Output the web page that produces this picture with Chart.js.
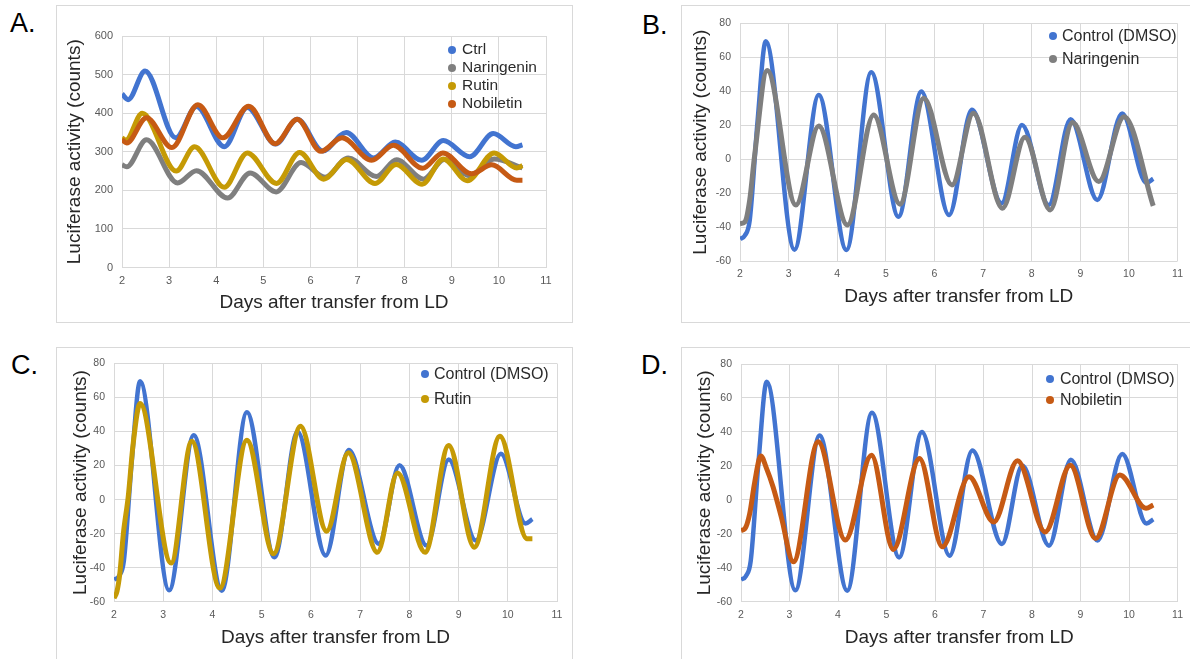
<!DOCTYPE html>
<html lang="en">
<head>
<meta charset="UTF-8">
<title>Luciferase activity after transfer from LD</title>
<script src="https://cdn.jsdelivr.net/npm/chart.js"></script>
<style>
  body { margin: 0; width: 1190px; height: 659px; background: #fff; position: relative; overflow: hidden;
         font-family: 'Liberation Sans', Arial, sans-serif; }
  .frame { position: absolute; border: 1px solid #d9d9d9; box-sizing: border-box; }
  .holder { position: absolute; }
  .tag { position: absolute; font-size: 27px; line-height: 27px; color: #000; }
  .legend { position: absolute; color: #2b2b2b; white-space: nowrap; }
  .legend div { position: relative; }
  .legend span { position: absolute; border-radius: 50%; }
</style>
</head>
<body>
  <div class="frame" style="left:56px;top:5px;width:517px;height:318px"></div>
  <div class="frame" style="left:681px;top:5px;width:520px;height:318px"></div>
  <div class="frame" style="left:56px;top:347px;width:517px;height:320px"></div>
  <div class="frame" style="left:681px;top:347px;width:520px;height:320px"></div>

  <div class="holder" style="left:56px;top:5px"><canvas id="chartA" width="517" height="316"></canvas></div>
  <div class="holder" style="left:681px;top:5px"><canvas id="chartB" width="509" height="316"></canvas></div>
  <div class="holder" style="left:56px;top:347px"><canvas id="chartC" width="517" height="312"></canvas></div>
  <div class="holder" style="left:681px;top:347px"><canvas id="chartD" width="509" height="312"></canvas></div>

  <div class="tag" style="left:10px;top:10px">A.</div>
  <div class="tag" style="left:642px;top:12px">B.</div>
  <div class="tag" style="left:11px;top:352px">C.</div>
  <div class="tag" style="left:641px;top:352px">D.</div>

<script>
  // axis ticks
  const dayTicks = [2, 3, 4, 5, 6, 7, 8, 9, 10, 11];
  const countTicksA = [0, 100, 200, 300, 400, 500, 600];
  const countTicks = [-60, -40, -20, 0, 20, 40, 60, 80];

  // panel A (raw counts)
  const daysCtrlA = [2.0, 2.13, 2.49, 3.14, 3.58, 4.17, 4.66, 5.26, 5.72, 6.26, 6.76, 7.34, 7.80, 8.36, 8.82, 9.38, 9.88, 10.36, 10.5];
  const ctrlA =     [450, 435, 509, 336, 417, 313, 415, 320, 384, 302, 350, 284, 325, 278, 329, 287, 347, 313, 318];
  const daysNarA = [2.0, 2.1, 2.52, 3.18, 3.58, 4.24, 4.72, 5.27, 5.80, 6.31, 6.80, 7.40, 7.83, 8.40, 8.84, 9.38, 9.90, 10.5];
  const narA =     [266, 261, 331, 219, 251, 180, 245, 196, 272, 234, 284, 236, 279, 229, 280, 238, 281, 258];
  const daysRutA = [2.0, 2.08, 2.43, 3.15, 3.54, 4.17, 4.66, 5.28, 5.77, 6.28, 6.77, 7.37, 7.82, 8.37, 8.82, 9.33, 9.90, 10.38, 10.5];
  const rutA =     [336, 330, 400, 250, 313, 208, 297, 218, 298, 229, 280, 218, 267, 216, 281, 225, 297, 258, 264];
  const daysNobA = [2.0, 2.1, 2.52, 3.06, 3.61, 4.14, 4.69, 5.25, 5.72, 6.22, 6.67, 7.30, 7.76, 8.38, 8.81, 9.42, 9.85, 10.38, 10.5];
  const nobA =     [331, 323, 388, 311, 422, 336, 418, 321, 384, 301, 336, 278, 317, 257, 297, 243, 266, 226, 226];

  // panels B-D (detrended counts)
  const daysDmso = [2.0, 2.1, 2.2, 2.36, 2.53, 3.12, 3.62, 4.19, 4.70, 5.26, 5.73, 6.30, 6.77, 7.38, 7.80, 8.35, 8.80, 9.35, 9.86, 10.36, 10.5];
  const dmso =     [-47, -45, -36, 22, 69.5, -53.3, 37.9, -53.5, 51.3, -33.9, 39.9, -32.9, 29.1, -26, 20.2, -27, 23.6, -24, 27, -14, -11.5];
  const daysNar = [2.0, 2.1, 2.2, 2.3, 2.56, 3.15, 3.62, 4.21, 4.75, 5.29, 5.78, 6.36, 6.80, 7.40, 7.86, 8.38, 8.84, 9.38, 9.90, 10.5];
  const nar =     [-38, -37, -24, 2, 52.3, -27, 19.6, -38.8, 26.1, -26.5, 36, -15.2, 27.1, -28.9, 13, -29.9, 21.6, -13.2, 25, -27.5];
  const daysRut = [2.0, 2.06, 2.12, 2.19, 2.29, 2.39, 2.53, 3.16, 3.58, 4.15, 4.70, 5.24, 5.79, 6.32, 6.76, 7.35, 7.76, 8.32, 8.80, 9.32, 9.84, 10.39, 10.5];
  const rut =     [-58, -54, -43, -20, 2, 33, 56.5, -37.3, 34.3, -52, 34.9, -31.8, 43.1, -18.6, 27.5, -31, 15.7, -31, 31.8, -28, 37.2, -23, -23];
  const daysNob = [2.0, 2.08, 2.18, 2.28, 2.41, 2.52, 2.66, 2.83, 3.08, 3.59, 4.15, 4.69, 5.14, 5.68, 6.15, 6.70, 7.21, 7.70, 8.27, 8.79, 9.31, 9.81, 10.35, 10.5];
  const nob =     [-18, -17, -8, 10, 25.8, 19, 7.7, -10, -36.5, 34.2, -23.7, 26.3, -29.2, 24.4, -27.7, 13.6, -13, 23, -18.9, 20.4, -22.8, 14.6, -5, -3];

  const BLUE = '#4274d0', GRAY = '#7f7f7f', GOLD = '#c59a05', ORANGE = '#c65a14';
  const FONT = "'Liberation Sans', Arial, sans-serif";

  function series(label, days, vals, color, order, width) {
    return {
      label: label,
      data: days.map((d, i) => ({ x: d, y: vals[i] })),
      borderColor: color,
      backgroundColor: color,
      borderWidth: width,
      pointRadius: 0,
      fill: false,
      cubicInterpolationMode: 'monotone',
      order: order
    };
  }

  function panel(id, datasets, yTicks, g) {
    return new Chart(document.getElementById(id), {
      type: 'line',
      data: { datasets: datasets },
      options: {
        responsive: false,
        animation: false,
        devicePixelRatio: 1,
        layout: { padding: { top: g.top, right: g.right, left: 0, bottom: 0 } },
        plugins: { legend: { display: false }, tooltip: { enabled: false } },
        scales: {
          x: {
            type: 'linear', min: 2, max: 11,
            afterBuildTicks: s => { s.ticks = dayTicks.map(v => ({ value: v })); },
            afterFit: s => { s.height = g.xh; },
            grid: { color: '#d9d9d9', drawTicks: false },
            border: { display: false },
            ticks: { padding: 7, maxRotation: 0, color: '#595959', font: { family: FONT, size: g.tick } },
            title: { display: true, text: 'Days after transfer from LD', color: '#262626',
                     font: { family: FONT, size: 19 }, padding: { top: 0, bottom: g.xtb } }
          },
          y: {
            min: yTicks[0], max: yTicks[yTicks.length - 1],
            afterBuildTicks: s => { s.ticks = yTicks.map(v => ({ value: v })); },
            afterFit: s => { s.width = g.yw; },
            grid: { color: '#d9d9d9', drawTicks: false },
            border: { display: false },
            ticks: { padding: 9, color: '#595959', font: { family: FONT, size: g.tick } },
            title: { display: true, text: 'Luciferase activity (counts)', color: '#262626',
                     font: { family: FONT, size: 19 }, padding: { top: g.ytp, bottom: 0 } }
          }
        }
      }
    });
  }

  function addLegend(chart, b) {
    const el = document.createElement('div');
    el.className = 'legend';
    el.style.left = b.textLeft + 'px';
    el.style.top = b.top + 'px';
    el.style.fontSize = b.size + 'px';
    el.style.lineHeight = b.row + 'px';
    chart.data.datasets.forEach(ds => {
      const row = document.createElement('div');
      const dot = document.createElement('span');
      dot.style.background = ds.borderColor;
      dot.style.width = '8px';
      dot.style.height = '8px';
      dot.style.left = (b.dotX - b.textLeft - 4) + 'px';
      dot.style.top = (b.row / 2 - 3.5) + 'px';
      row.appendChild(dot);
      row.appendChild(document.createTextNode(ds.label));
      el.appendChild(row);
    });
    document.body.appendChild(el);
  }

  const chartA = panel('chartA', [
    series('Ctrl', daysCtrlA, ctrlA, BLUE, 4, 5),
    series('Naringenin', daysNarA, narA, GRAY, 3, 5),
    series('Rutin', daysRutA, rutA, GOLD, 2, 5),
    series('Nobiletin', daysNobA, nobA, ORANGE, 1, 5)
  ], countTicksA, { top: 31, right: 27, yw: 66, xh: 53.5, ytp: 7.6, xtb: 6.6, tick: 11 });

  const chartB = panel('chartB', [
    series('Control (DMSO)', daysDmso, dmso, BLUE, 2, 4.5),
    series('Naringenin', daysNar, nar, GRAY, 1, 5)
  ], countTicks, { top: 18.5, right: 8, yw: 59, xh: 60, ytp: 8.6, xtb: 12.6, tick: 10.5 });

  const chartC = panel('chartC', [
    series('Control (DMSO)', daysDmso, dmso, BLUE, 2, 4.5),
    series('Rutin', daysRut, rut, GOLD, 1, 5)
  ], countTicks, { top: 16.5, right: 16, yw: 58, xh: 57.3, ytp: 13.6, xtb: 9.6, tick: 10.5 });

  const chartD = panel('chartD', [
    series('Control (DMSO)', daysDmso, dmso, BLUE, 2, 4.5),
    series('Nobiletin', daysNob, nob, ORANGE, 1, 5)
  ], countTicks, { top: 17, right: 9, yw: 60, xh: 57.3, ytp: 12.6, xtb: 9.6, tick: 10.5 });

  addLegend(chartA, { textLeft: 462, dotX: 452, top: 40, row: 18, size: 15.5 });
  addLegend(chartB, { textLeft: 1062, dotX: 1053, top: 23.5, row: 23, size: 16 });
  addLegend(chartC, { textLeft: 434, dotX: 424.5, top: 360.5, row: 25, size: 16 });
  addLegend(chartD, { textLeft: 1060, dotX: 1050, top: 367.5, row: 21, size: 16 });
</script>
</body>
</html>
